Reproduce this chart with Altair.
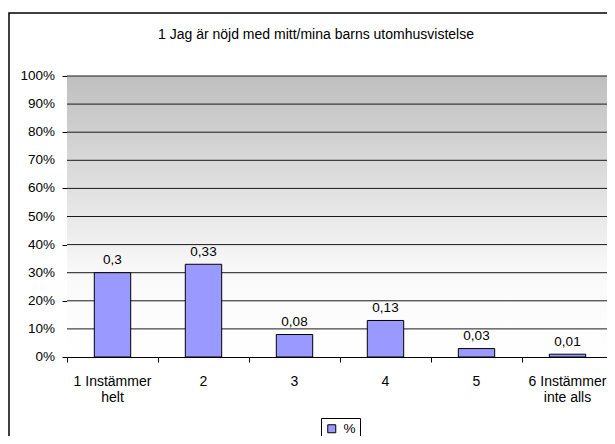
import altair as alt
import pandas as pd

categories = ["1 Instämmer\nhelt", "2", "3", "4", "5", "6 Instämmer\ninte alls"]
values = [0.30, 0.33, 0.08, 0.13, 0.03, 0.01]
value_labels = ["0,3", "0,33", "0,08", "0,13", "0,03", "0,01"]
series_name = "%"
y_ticks = [0.0, 0.1, 0.2, 0.3, 0.4, 0.5, 0.6, 0.7, 0.8, 0.9, 1.0]
y_tick_labels = ["0%", "10%", "20%", "30%", "40%", "50%", "60%", "70%", "80%", "90%", "100%"]
x_ticks = [0, 1, 2, 3, 4, 5, 6]
title_text = "1 Jag är nöjd med mitt/mina barns utomhusvistelse"

W, H = 540, 281
FULLW = 546
FONT = "Liberation Sans"

df = pd.DataFrame({
    "idx": list(range(len(categories))),
    "cat": categories,
    "value": values,
    "label": value_labels,
    "serie": [series_name] * len(categories),
})
df["x0"] = df["idx"] + 0.3
df["x1"] = df["idx"] + 0.7
df["xc"] = df["idx"] + 0.5

ydf = pd.DataFrame({"g": y_ticks, "lab": y_tick_labels})
grid_df = ydf[ydf["g"] > 0]
one = pd.DataFrame({"t": [title_text]})

xscale = alt.Scale(domain=[0, 6], range=[0, FULLW], nice=False, zero=False)
yscale = alt.Scale(domain=[0, 1], nice=False)

yaxis = alt.Axis(values=y_ticks, labels=False, grid=False, tickSize=5,
                 tickColor="black", domainColor="black", title=None)
xaxis = alt.Axis(values=x_ticks, labels=False, grid=False, tickSize=5,
                 tickColor="black", domainColor="black", title=None)

gradient = alt.LinearGradient(
    gradient="linear",
    stops=[
        alt.GradientStop(color="#ffffff", offset=0),
        alt.GradientStop(color="#f9f9f9", offset=0.3),
        alt.GradientStop(color="#bfbfbf", offset=1),
    ],
    x1=0, x2=0, y1=1, y2=0,
)

base = alt.Chart(df)
single = alt.Chart(one)

frame = single.mark_rect(fill=None, stroke="black", strokeWidth=1.5, clip=False).encode(
    x=alt.value(-58), x2=alt.value(600), y=alt.value(-63), y2=alt.value(420)
)

bg = single.mark_rect(fill=gradient).encode(
    x=alt.value(0), x2=alt.value(FULLW), y=alt.value(0), y2=alt.value(H)
)

grid = alt.Chart(grid_df).mark_rule(color="#1a1a1a", strokeWidth=1).encode(
    y=alt.Y("g:Q", scale=yscale, axis=yaxis),
    x=alt.value(0), x2=alt.value(FULLW),
)

ylabels = alt.Chart(ydf).mark_text(font=FONT, fontSize=13.5, align="right", baseline="middle",
                                   color="black").encode(
    y=alt.Y("g:Q", scale=yscale), x=alt.value(-12), text="lab:N"
)

bars = base.mark_bar(stroke="black", strokeWidth=1).encode(
    x=alt.X("x0:Q", scale=xscale, axis=xaxis),
    x2="x1:Q",
    y=alt.Y("value:Q", scale=yscale, axis=yaxis),
    y2=alt.datum(0),
    color=alt.Color("serie:N", scale=alt.Scale(range=["#9999ff"]),
                    legend=alt.Legend(title=None, orient="none", legendX=254, legendY=342,
                                      symbolType="square", symbolSize=64,
                                      symbolStrokeColor="black", symbolStrokeWidth=1,
                                      labelFont=FONT, labelFontSize=13.5, labelColor="black",
                                      labelOffset=5, strokeColor="black", padding=4)),
)

vlabels = base.mark_text(font=FONT, fontSize=13.5, baseline="alphabetic", dy=-8.5, color="black").encode(
    x=alt.X("xc:Q", scale=xscale), y=alt.Y("value:Q", scale=yscale), text="label:N"
)

clabels = base.mark_text(font=FONT, fontSize=14, baseline="alphabetic", lineBreak="\n",
                         lineHeight=16, color="black").encode(
    x=alt.X("xc:Q", scale=xscale), y=alt.value(H + 29), text="cat:N"
)

title = single.mark_text(font=FONT, fontSize=14, baseline="alphabetic", align="center", color="black").encode(
    x=alt.value(249), y=alt.value(-37), text="t:N"
)

chart = alt.layer(frame, bg, grid, bars, vlabels, clabels, ylabels, title).properties(
    width=W, height=H,
    autosize=alt.AutoSizeParams(type="none"),
    padding={"left": 59, "top": 68, "right": 0, "bottom": 79},
).configure_view(stroke=None).configure(background="white")

chart.save("out.html", embed_options={"renderer": "svg", "actions": False})
